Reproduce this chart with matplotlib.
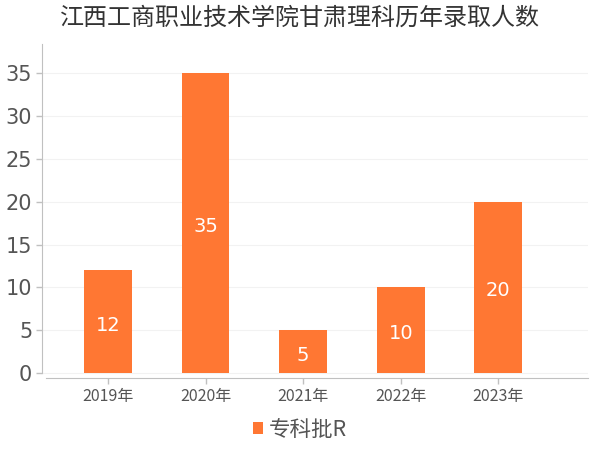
import matplotlib
matplotlib.use('Agg')
import matplotlib.pyplot as plt
import numpy as np

plt.rcParams['font.family'] = ['DejaVu Sans', 'Noto Sans CJK SC']

# data
years = ['2019年', '2020年', '2021年', '2022年', '2023年']
counts = [12, 35, 5, 10, 20]
series_name = '专科批R'
yticks = [0, 5, 10, 15, 20, 25, 30, 35]

bar_color = '#ff7733'
text_color = '#555555'
axis_color = '#c0c0c0'
cjk = ['Noto Sans CJK SC', 'DejaVu Sans']

fig = plt.figure(figsize=(6, 4.5), dpi=100)
ax = fig.add_axes([0.07, 0.16, 0.91, 0.742])

x = np.arange(len(years))
bars = ax.bar(x, counts, width=0.49, color=bar_color, label=series_name, zorder=3)

# value labels inside the bars, nudged a bit downwards
for xi, v in zip(x, counts):
    ax.annotate(str(v), (xi, v / 2), xytext=(0, -2.5), textcoords='offset points',
                ha='center', va='center', color='white', fontsize=14, zorder=4)

ax.set_xlim(-0.677, 4.92)
ax.set_ylim(-0.58, 38.4)
ax.set_xticks(x)
ax.set_xticklabels(years, fontsize=11.5, color=text_color, family=cjk)
ax.set_yticks(yticks)
ax.set_yticklabels([str(t) for t in yticks], fontsize=15, color=text_color)

ax.yaxis.grid(True, color='#f2f2f2', lw=0.8, zorder=0)
for s in ['top', 'right']:
    ax.spines[s].set_visible(False)
ax.spines['left'].set_color(axis_color)
ax.spines['bottom'].set_color(axis_color)
ax.spines['left'].set_bounds(0, 38.4)
ax.spines['bottom'].set_bounds(-0.636, 4.92)
ax.tick_params(axis='both', colors=axis_color, length=4, width=1)
ax.tick_params(axis='x', labelcolor=text_color, pad=3)
ax.tick_params(axis='y', labelcolor=text_color, pad=3)

fig.suptitle('江西工商职业技术学院甘肃理科历年录取人数', x=0.5, y=0.99,
             fontsize=17.3, color='#333333', family=cjk)

leg = fig.legend(handles=[bars], labels=[series_name], loc='center', bbox_to_anchor=(0.5, 0.045),
                 frameon=False, fontsize=15.5, labelcolor=text_color, handlelength=0.45,
                 handleheight=0.45, handletextpad=0.3)
for t in leg.get_texts():
    t.set_family(cjk)

fig.savefig('out.png', dpi=100)
